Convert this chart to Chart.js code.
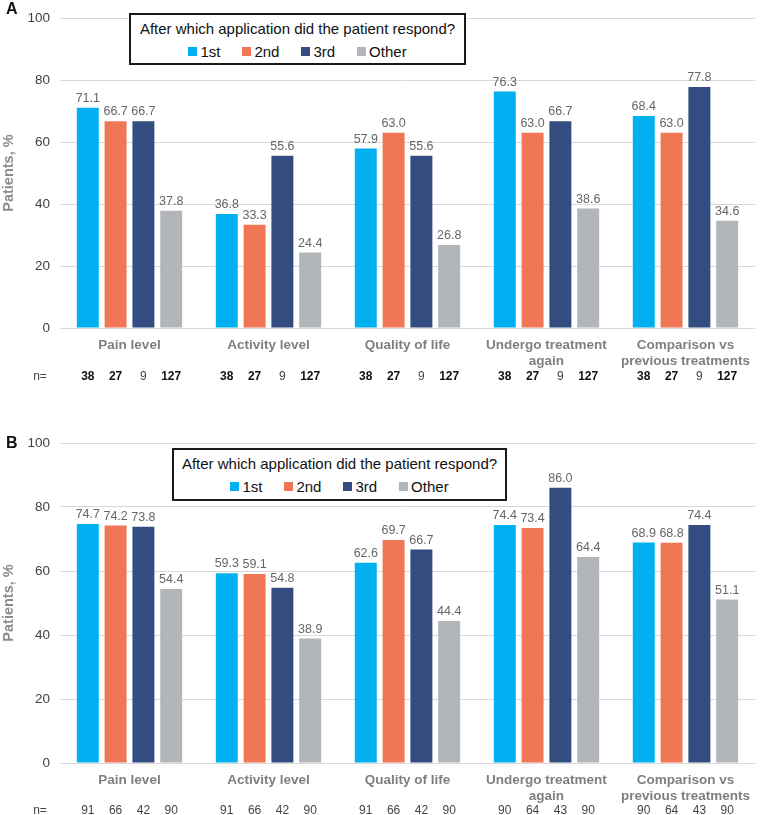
<!DOCTYPE html>
<html>
<head>
<meta charset="utf-8">
<script src="https://cdn.jsdelivr.net/npm/chart.js@4.4.1/dist/chart.umd.min.js"></script>
<style>
  body { margin: 0; background: #fff; font-family: "Liberation Sans", Arial, sans-serif; }
  #page { position: relative; width: 760px; height: 815px; overflow: hidden; }
  .panel { position: absolute; left: 0; width: 760px; }
  .letter { position: absolute; left: 6px; font-weight: bold; font-size: 16px; color: #111; }
  .legend {
    position: absolute; border: 2px solid #1a1a1a; background: #fff;
    box-sizing: border-box; text-align: center; color: #111;
  }
  .legend .ttl { font-size: 15px; margin-top: 5px; }
  .legend .items { font-size: 15px; margin-top: 6px; }
  .legend .it { display: inline-block; margin: 0 11px; }
  .legend .sw { display: inline-block; width: 9px; height: 9px; margin-right: 3px; vertical-align: 1px; }
</style>
</head>
<body>
<div id="page">
  <div class="panel" style="top:0;height:400px"><canvas id="chartA" width="760" height="400"></canvas></div>
  <div class="panel" style="top:400px;height:415px"><canvas id="chartB" width="760" height="415"></canvas></div>
  <div class="letter" style="top:0px">A</div>
  <div class="letter" style="top:434px">B</div>
  <div class="legend" id="legendA" style="left:129px;top:13px;width:337px;height:52px"></div>
  <div class="legend" id="legendB" style="left:172px;top:448px;width:335px;height:53px"></div>
</div>
<script>
const categories = [
  "Pain level",
  "Activity level",
  "Quality of life",
  ["Undergo treatment", "again"],
  ["Comparison vs", "previous treatments"]
];
const seriesNames = ["1st", "2nd", "3rd", "Other"];
const seriesColors = ["#00B0F0", "#F07656", "#344D80", "#B2B5BA"];

// panel A
const a1st = [71.1, 36.8, 57.9, 76.3, 68.4];
const a2nd = [66.7, 33.3, 63.0, 63.0, 63.0];
const a3rd = [66.7, 55.6, 55.6, 66.7, 77.8];
const aOther = [37.8, 24.4, 26.8, 38.6, 34.6];
const nA = [[38, 38, 38, 38, 38], [27, 27, 27, 27, 27], [9, 9, 9, 9, 9], [127, 127, 127, 127, 127]];

// panel B
const b1st = [74.7, 59.3, 62.6, 74.4, 68.9];
const b2nd = [74.2, 59.1, 69.7, 73.4, 68.8];
const b3rd = [73.8, 54.8, 66.7, 86.0, 74.4];
const bOther = [54.4, 38.9, 44.4, 64.4, 51.1];
const nB = [[91, 91, 91, 90, 90], [66, 66, 66, 64, 64], [42, 42, 42, 43, 43], [90, 90, 90, 90, 90]];

const yTicks = [0, 20, 40, 60, 80, 100];
const legendTitle = "After which application did the patient respond?";

const FONT = "'Liberation Sans', Arial, sans-serif";

function buildLegend(id) {
  const box = document.getElementById(id);
  const items = seriesNames.map((name, i) =>
    '<span class="it"><span class="sw" style="background:' + seriesColors[i] + '"></span>' + name + '</span>'
  ).join("");
  box.innerHTML = '<div class="ttl">' + legendTitle + '</div><div class="items">' + items + '</div>';
}

const barLabels = {
  id: "barLabels",
  afterDatasetsDraw(chart) {
    const ctx = chart.ctx;
    ctx.save();
    ctx.font = "12.5px " + FONT;
    ctx.fillStyle = "#666";
    ctx.textAlign = "center";
    ctx.textBaseline = "bottom";
    chart.data.datasets.forEach((ds, di) => {
      chart.getDatasetMeta(di).data.forEach((bar, i) => {
        ctx.fillText(ds.data[i].toFixed(1), bar.x, bar.y - 3);
      });
    });
    ctx.restore();
  }
};

const nRow = {
  id: "nRow",
  afterDraw(chart, args, opts) {
    const ctx = chart.ctx;
    const y = chart.chartArea.bottom + opts.offset;
    ctx.save();
    ctx.textAlign = "center";
    ctx.textBaseline = "middle";
    ctx.font = "12px " + FONT;
    ctx.fillStyle = "#444";
    ctx.fillText("n=", 40, y);
    opts.values.forEach((row, di) => {
      const bold = opts.bold[di];
      ctx.font = (bold ? "bold " : "") + "12px " + FONT;
      ctx.fillStyle = bold ? "#111" : "#444";
      chart.getDatasetMeta(di).data.forEach((bar, i) => {
        ctx.fillText(String(row[i]), bar.x, y);
      });
    });
    ctx.restore();
  }
};

function makeChart(id, series, nValues, bold, padTop, bottomH, nOffset) {
  const ctx = document.getElementById(id).getContext("2d");
  return new Chart(ctx, {
    type: "bar",
    data: {
      labels: categories,
      datasets: series.map((data, i) => ({
        label: seriesNames[i],
        data: data,
        backgroundColor: seriesColors[i],
        categoryPercentage: 0.8,
        barPercentage: 0.79
      }))
    },
    options: {
      responsive: false,
      animation: false,
      layout: { padding: { top: padTop, right: 0, left: 0, bottom: 0 } },
      plugins: {
        legend: { display: false },
        tooltip: { enabled: false },
        nRow: { values: nValues, bold: bold, offset: nOffset }
      },
      scales: {
        x: {
          grid: { display: false, drawTicks: false },
          border: { display: false },
          ticks: {
            color: "#7f7f7f",
            font: { family: FONT, size: 13.5, weight: "bold", lineHeight: 1.15 },
            padding: 10,
            maxRotation: 0,
            autoSkip: false
          },
          afterFit(scale) { scale.height = bottomH; }
        },
        y: {
          min: 0,
          max: 100,
          afterBuildTicks(scale) { scale.ticks = yTicks.map(v => ({ value: v })); },
          grid: { color: "#d9d9d9", drawTicks: false },
          border: { display: false },
          ticks: {
            color: "#404040",
            font: { family: FONT, size: 13.5 },
            padding: 10
          },
          title: {
            display: true,
            text: "Patients, %",
            color: "#8c8c8c",
            font: { family: FONT, size: 14.5, weight: "bold" },
            padding: 0
          },
          afterFit(scale) { scale.width = 60; }
        }
      }
    },
    plugins: [barLabels, nRow]
  });
}

buildLegend("legendA");
buildLegend("legendB");

makeChart("chartA", [a1st, a2nd, a3rd, aOther], nA, [true, true, false, true], 8, 72, 49);
makeChart("chartB", [b1st, b2nd, b3rd, bOther], nB, [false, false, false, false], 43, 52, 48);
</script>
</body>
</html>
